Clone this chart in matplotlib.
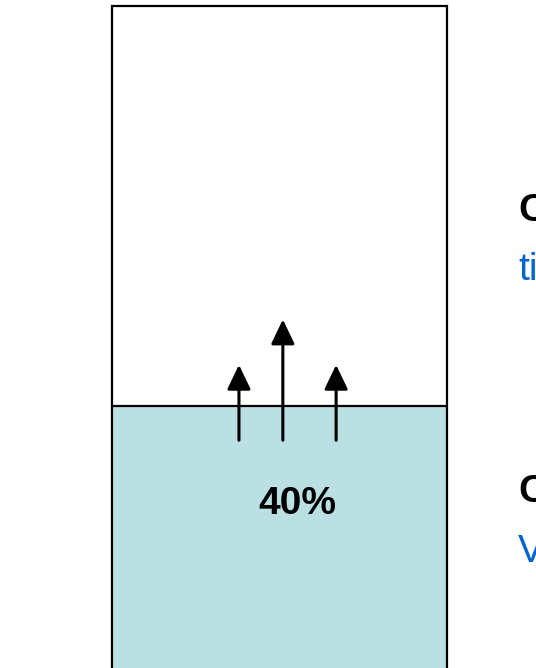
import matplotlib
matplotlib.use('Agg')
import matplotlib.pyplot as plt
from matplotlib.patches import Rectangle

plt.rcParams['font.family'] = ['Liberation Sans', 'DejaVu Sans']

# Data
fill_fraction = 0.40
fill_label = '40%'
arrow_x = [0.379, 0.510, 0.669]
arrow_base = [0.349, 0.349, 0.349]
arrow_tip = [0.462, 0.530, 0.462]
side_titles = ['C', 'C']
side_notes = ['ti', 'V']

fig = plt.figure(figsize=(5.36, 6.68), dpi=100)
ax = fig.add_axes([112 / 536, -5 / 668, 335 / 536, 667 / 668])
ax.set_xlim(0, 1)
ax.set_ylim(0, 1)
ax.axis('off')

# Container with liquid
ax.add_patch(Rectangle((0, 0), 1, fill_fraction, facecolor='#BAE0E3', edgecolor='none', zorder=1))
ax.plot([0, 1], [fill_fraction, fill_fraction], color='black', lw=1.6, zorder=2)
ax.add_patch(Rectangle((0, 0), 1, 1, facecolor='none', edgecolor='black', lw=1.6, zorder=3, clip_on=False))

# Arrows
for x, y0, y1 in zip(arrow_x, arrow_base, arrow_tip):
    ax.annotate('', xy=(x, y1), xytext=(x, y0),
                arrowprops=dict(arrowstyle='-|>,head_length=1.5,head_width=0.72',
                                color='black', lw=2.2, shrinkA=0, shrinkB=0))

ax.text(0.552, 0.254, fill_label, ha='center', va='center',
        fontsize=28, fontweight='bold')

# Side text (cut off at the right edge)
fig.text(518 / 536, 1 - 211 / 668, side_titles[0], ha='left', va='center',
         fontsize=28, fontweight='bold')
fig.text(518 / 536, 1 - 270 / 668, side_notes[0], ha='left', va='center',
         fontsize=28, color='#0066CC')
fig.text(518 / 536, 1 - 492 / 668, side_titles[1], ha='left', va='center',
         fontsize=28, fontweight='bold')
fig.text(518 / 536, 1 - 552 / 668, side_notes[1], ha='left', va='center',
         fontsize=28, color='#0066CC')

fig.savefig('out.png', dpi=100)
